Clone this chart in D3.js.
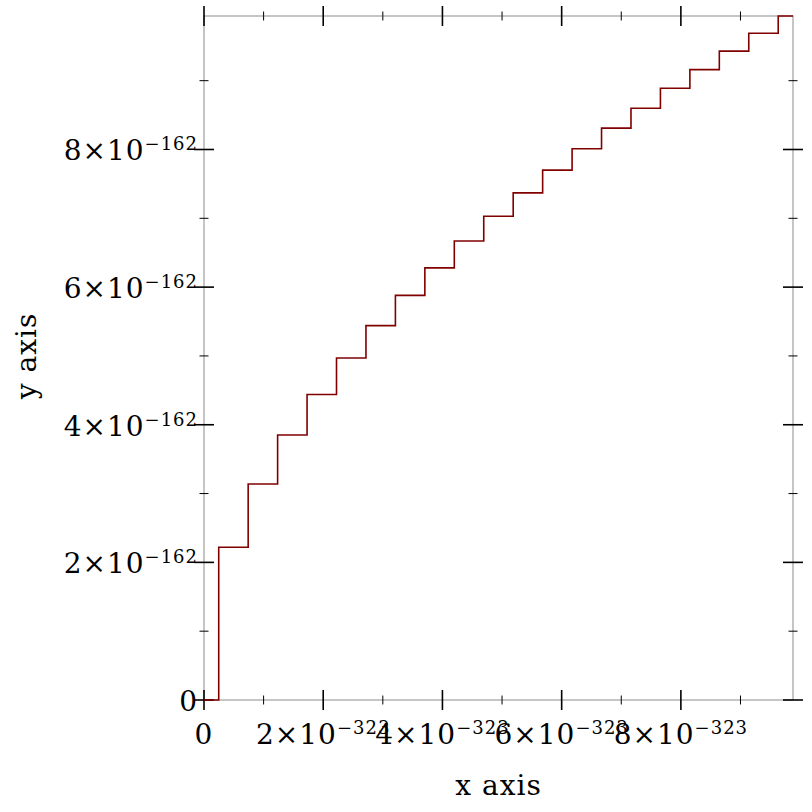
<!DOCTYPE html>
<html>
<head>
<style>
  body {
    margin: 0;
    background-color: #fff;
  }
  text {
    font-family: "DejaVu Serif", serif;
  }
</style>
  <script src="https://d3js.org/d3.v7.min.js"></script>
</head>
<body>
<script>
// sqrt over the smallest subnormal doubles
// x in units of 1e-323, y in units of 1e-162

const xBreaks = [0, 0.247, 0.741, 1.235, 1.729, 2.223, 2.717, 3.211, 3.705, 4.199, 4.693,
  5.187, 5.681, 6.175, 6.669, 7.163, 7.657, 8.151, 8.645, 9.139, 9.633, 9.881];
const yLevels = [0, 2.22, 3.14, 3.85, 4.44, 4.97, 5.44, 5.88, 6.28, 6.67, 7.03,
  7.37, 7.70, 8.01, 8.31, 8.60, 8.89, 9.16, 9.43, 9.69, 9.94];

const xTicks = [0, 2, 4, 6, 8];
const xTickLabels = [['0', ''], ['2×10', '−323'], ['4×10', '−323'], ['6×10', '−323'], ['8×10', '−323']];
const xMinor = [1, 3, 5, 7, 9];
const yTicks = [0, 2, 4, 6, 8];
const yTickLabels = [['0', ''], ['2×10', '−162'], ['4×10', '−162'], ['6×10', '−162'], ['8×10', '−162']];
const yMinor = [1, 3, 5, 7, 9];

const width = 812, height = 812;
const plot = { left: 204, right: 793, top: 16, bottom: 700 };

const svg = d3.select('body')
  .append('svg')
  .attr('width', width)
  .attr('height', height);

const x = d3.scaleLinear().domain([0, 9.881]).range([plot.left, plot.right]);
const y = d3.scaleLinear().domain([0, 9.94]).range([plot.bottom, plot.top]);

// step points: each level holds from one break to the next
const points = [];
for (let i = 0; i < yLevels.length; i++) {
  points.push([xBreaks[i], yLevels[i]]);
  points.push([xBreaks[i + 1], yLevels[i]]);
}

// frame
svg.append('rect')
  .attr('x', plot.left)
  .attr('y', plot.top)
  .attr('width', plot.right - plot.left)
  .attr('height', plot.bottom - plot.top)
  .attr('fill', 'none')
  .attr('stroke', '#8c8c8c')
  .attr('stroke-width', 1);

const major = 10, minor = 4.5;

// x ticks, bottom and top
[plot.bottom, plot.top].forEach(yy => {
  xTicks.forEach(t => {
    svg.append('line')
      .attr('x1', x(t)).attr('x2', x(t))
      .attr('y1', yy - major).attr('y2', yy + major)
      .attr('stroke', '#000').attr('stroke-width', 1.6);
  });
  xMinor.forEach(t => {
    svg.append('line')
      .attr('x1', x(t)).attr('x2', x(t))
      .attr('y1', yy - minor).attr('y2', yy + minor)
      .attr('stroke', '#000').attr('stroke-width', 1);
  });
});

// y ticks, left and right
[plot.left, plot.right].forEach(xx => {
  yTicks.forEach(t => {
    svg.append('line')
      .attr('x1', xx - major).attr('x2', xx + major)
      .attr('y1', y(t)).attr('y2', y(t))
      .attr('stroke', '#000').attr('stroke-width', 1.6);
  });
  yMinor.forEach(t => {
    svg.append('line')
      .attr('x1', xx - minor).attr('x2', xx + minor)
      .attr('y1', y(t)).attr('y2', y(t))
      .attr('stroke', '#000').attr('stroke-width', 1);
  });
});

// the step line
svg.append('path')
  .datum(points)
  .attr('fill', 'none')
  .attr('stroke', '#800000')
  .attr('stroke-width', 1.6)
  .attr('d', d3.line().x(d => x(d[0])).y(d => y(d[1])));

const fs = 28, sup = 18;

function label(g, parts) {
  const t = g.append('text').attr('font-size', fs).attr('fill', '#000')
    .attr('letter-spacing', 1);
  t.append('tspan').text(parts[0]);
  if (parts[1]) {
    t.append('tspan').attr('font-size', sup).attr('dy', -10).text(parts[1]);
  }
  return t;
}

// x tick labels
xTicks.forEach((t, i) => {
  const g = svg.append('g');
  const txt = label(g, xTickLabels[i]).attr('y', 744);
  const w = txt.node().getComputedTextLength();
  txt.attr('x', x(t) - w / 2);
});

// y tick labels
yTicks.forEach((t, i) => {
  const g = svg.append('g');
  const txt = label(g, yTickLabels[i]).attr('y', y(t) + 11);
  const w = txt.node().getComputedTextLength();
  txt.attr('x', plot.left - 6 - w);
});

svg.append('text')
  .attr('x', (plot.left + plot.right) / 2)
  .attr('y', 795)
  .attr('text-anchor', 'middle')
  .attr('font-size', fs)
  .attr('letter-spacing', 1)
  .text('x axis');

svg.append('text')
  .attr('transform', `translate(36, 356) rotate(-90)`)
  .attr('text-anchor', 'middle')
  .attr('font-size', fs)
  .attr('letter-spacing', 1)
  .text('y axis');
</script>
</body>
</html>
